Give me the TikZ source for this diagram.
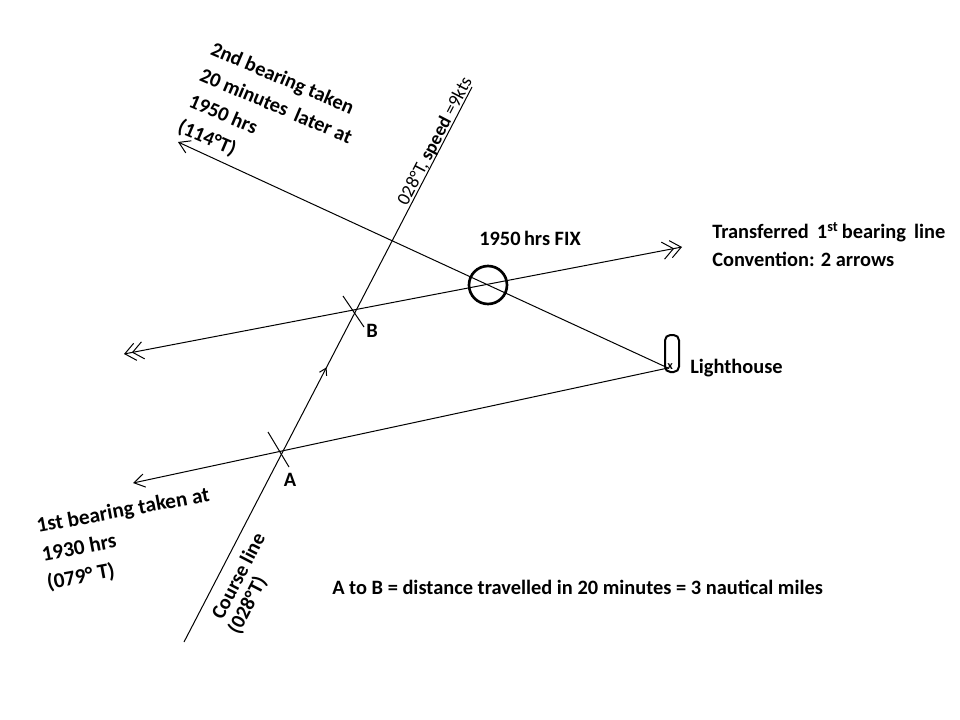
\documentclass[tikz,border=0pt]{standalone}
\usepackage{fontspec}
\setmainfont{Carlito}
\usetikzlibrary{arrows.meta,decorations.markings,calc}
\begin{document}
\begin{tikzpicture}[x=0.75pt,y=-0.75pt,
  ln/.style={line width=0.75pt, black},
  lbl/.style={font=\fontsize{15.3}{21}\selectfont\bfseries, inner sep=0pt, align=left},
  barb/.tip={Straight Barb[length=8pt,width=10pt,line width=0.75pt]},
  dbarb/.tip={Straight Barb[length=8pt,width=13pt,line width=0.75pt,sep=-3pt]Straight Barb[length=8pt,width=13pt,line width=0.75pt]},
  midarrow/.style={postaction={decorate}, decoration={markings,
     mark=at position 0.495 with {\arrow{Straight Barb[length=5pt,width=6pt,line width=0.75pt]}}}}
]
\fill[white] (0,0) rectangle (960,720);
\useasboundingbox (0,0) rectangle (960,720);

% key points
\coordinate (LH) at (668,368);
\coordinate (E1) at (133,483);
\coordinate (E2) at (178,142);
\coordinate (T1) at (124,354);
\coordinate (T2) at (682,247);
\coordinate (C1) at (184,642);
\coordinate (C2) at (472,87);
\coordinate (A) at (281,453);
\coordinate (B) at (354,312);

% lines
\draw[ln,-barb] (LH) -- (E1);
\draw[ln,-barb] (LH) -- (E2);
\draw[ln,dbarb-dbarb] (T1) -- (T2);
\draw[ln,midarrow] (C1) -- (C2);

% ticks at A and B
\draw[ln] ($(A)+(-13,-21)$) -- ($(A)+(8,14)$);
\draw[ln] ($(B)+(-11,-16)$) -- ($(B)+(10,15)$);

% fix circle
\node (fix) [circle, draw, line width=2pt, minimum size=28.5pt, inner sep=0pt] at (488,285) {};

% lighthouse
\node (lhbox) [draw, line width=1.5pt, rounded corners=4pt, minimum width=10.5pt, minimum height=27.75pt, inner sep=0pt] at (672,353.5) {};
\node (lhx) [font=\fontsize{9}{9}\selectfont\bfseries, inner sep=0pt] at (670,367) {x};

% labels
\node (lA) [lbl] at (290,480) {A};
\node (lB) [lbl] at (372,331) {B};
\node (lfix) [lbl, anchor=base west] at (479,246) {1950\,hrs FIX};
\node (ltr) [lbl, anchor=north west] at (712,222) {Transferred\, 1\textsuperscript{st}\,bearing\, line\\Convention: 2 arrows};
\node (llh) [lbl, anchor=base west] at (690,373) {Lighthouse};
\node (ldist) [lbl, anchor=base west] at (332,594) {A to B = distance travelled in 20 minutes = 3 nautical miles};
\node (l2nd) [lbl, anchor=north west, rotate=-23] at (215,41) {2nd bearing taken\\20 minutes\, later at\\1950 hrs\\(114°T)};
\node (l1st) [lbl, anchor=north west, rotate=10.5, font=\fontsize{16}{21.5}\selectfont\bfseries] at (35,518) {1st bearing taken at\\1930 hrs\\(079° T)};
\node (lcourse) [lbl, anchor=north west, rotate=62.6, font=\fontsize{15.3}{16}\selectfont\bfseries] at (207,619) {\hspace*{4pt}Course line\\(028°T)};
\node (lspeed) [inner sep=0pt, anchor=base west, rotate=62.6, font=\fontsize{14}{16}\selectfont] at (407,207) {028°T, \textbf{speed} =9kts};
\end{tikzpicture}
\end{document}
